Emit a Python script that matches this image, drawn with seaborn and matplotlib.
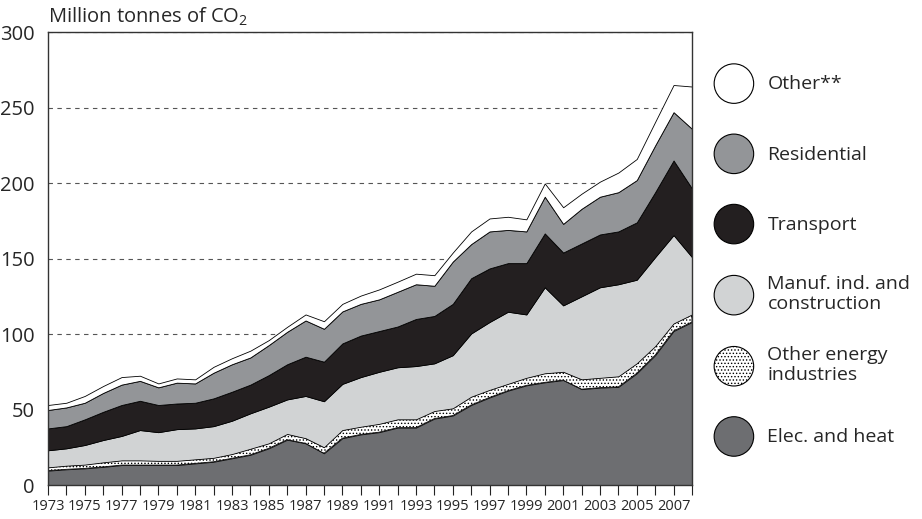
import matplotlib
matplotlib.use('Agg')
import matplotlib.pyplot as plt
import seaborn as sns
from matplotlib.patches import Circle, Patch
from matplotlib.legend_handler import HandlerPatch

# Mt CO2 by sector
years = list(range(1973, 2009))
elec_heat = [9.5, 10.4, 11, 12, 13.2, 13.2, 13.2, 13.2, 14.3, 15.4, 17.7, 20,
             24.3, 30, 27.6, 21, 31, 33.5, 35, 38, 38, 44, 46, 53,
             58, 62.5, 66, 68, 69.5, 63.5, 64.5, 65, 74, 86, 102, 108]
other_energy = [2.2, 2.4, 2.5, 3, 3.1, 3.1, 2.8, 2.8, 2.7, 2.6, 2.8, 4,
                3.3, 3.8, 3.4, 4, 5.4, 5.1, 5.5, 5.5, 5.5, 5, 4.8, 5.5,
                5, 4.5, 5, 6, 5.5, 6.5, 6.5, 7, 6.6, 6, 5, 5]
manuf_constr = [11.3, 11.5, 13, 14.8, 16.2, 20.1, 19, 21, 20.5, 21, 22.1, 23.5,
                24.3, 22.9, 28, 30.5, 30.6, 32.9, 34.5, 34.5, 35.3, 31.6, 35.2, 41.9,
                45, 47.8, 42, 57, 44, 55, 60, 61, 55.4, 59, 58.6, 38]
transport = [14.5, 14.7, 17, 18.7, 20.5, 19.4, 18, 17, 17, 18.4, 19.2, 19,
             20.9, 23.3, 26, 26.2, 26.8, 27.5, 27, 27, 31.2, 31.4, 34, 36.6,
             35.5, 32.2, 34, 35.7, 35, 35, 35, 35, 38, 43, 49.4, 45.5]
residential = [12.2, 12.4, 11, 12.5, 13.5, 13.2, 11.7, 13.8, 12.8, 17, 18.2, 18,
               19.9, 21.5, 24, 21.8, 21.2, 21, 21, 23, 23, 20, 28, 22.6,
               24.5, 22, 21, 24.3, 19, 23, 25, 26, 28, 31, 32, 39.5]
other = [3.3, 3.1, 4.5, 4.6, 5, 3.4, 2.6, 2.8, 2.7, 3.9, 4, 4.5,
         3.3, 3.3, 4, 5, 5, 5.5, 6.6, 6.7, 7, 7, 6, 8.4,
         8.6, 8.7, 8, 8.8, 11, 10, 10, 13, 14, 15.6, 18, 28]

labels = ['Elec. and heat', 'Other energy\nindustries', 'Manuf. ind. and\nconstruction',
          'Transport', 'Residential', 'Other**']
colors = ['#6d6e71', '#ffffff', '#d1d3d4', '#231f20', '#939598', '#ffffff']
hatches = [None, '.....', None, None, None, None]

sns.set_theme(style='white')
plt.rcParams['font.family'] = ['Open Sans', 'DejaVu Sans']
plt.rcParams['mathtext.default'] = 'regular'
plt.rcParams['hatch.linewidth'] = 0.6

fig, ax = plt.subplots(figsize=(9.22, 5.19), dpi=100)
fig.subplots_adjust(left=0.052, right=0.7505, bottom=0.0655, top=0.938)

polys = ax.stackplot(years, elec_heat, other_energy, manuf_constr, transport,
                     residential, other, colors=colors, edgecolor='black',
                     linewidth=0.6, zorder=2)
for p, h in zip(polys, hatches):
    if h:
        p.set_hatch(h)

ax.set_xlim(1973, 2008)
ax.set_ylim(0, 300)
ax.set_yticks(range(0, 301, 50))
ax.yaxis.grid(True, linestyle=(0, (4, 4)), color='#555555', linewidth=0.8)
ax.set_axisbelow(True)

ax.set_xticks(years)
ax.set_xticklabels([str(y) if y % 2 == 1 else '' for y in years], fontsize=10.5)
ax.tick_params(axis='x', bottom=True, length=7, width=0.8, color='#222222',
               direction='out', pad=3)
ax.tick_params(axis='y', left=False, labelsize=14.5, pad=3.5)
for s in ax.spines.values():
    s.set_color('#333333')
    s.set_linewidth(1.0)

ax.text(0, 1.01, 'Million tonnes of CO$_2$', transform=ax.transAxes,
        fontsize=14.5, va='bottom', ha='left')


def circle_handle(legend, orig_handle, xdescent, ydescent, width, height, fontsize):
    r = min(width, height) / 2
    return Circle((width / 2 - xdescent, height / 2 - ydescent), radius=r)


handles = []
for lab, col, h in zip(labels, colors, hatches):
    handles.append(Patch(facecolor=col, edgecolor='black', hatch=h,
                         linewidth=0.8, label=lab))
handles = handles[::-1]

fig.legend(handles=handles, labels=[h.get_label() for h in handles],
           loc='upper left', bbox_to_anchor=(0.767, 0.877),
           bbox_transform=fig.transFigure, frameon=False, fontsize=14,
           handlelength=2.75, handleheight=2.75, handletextpad=0.35,
           labelspacing=1.58, borderpad=0, borderaxespad=0,
           handler_map={Patch: HandlerPatch(patch_func=circle_handle)})

plt.savefig('out.png', dpi=100)
